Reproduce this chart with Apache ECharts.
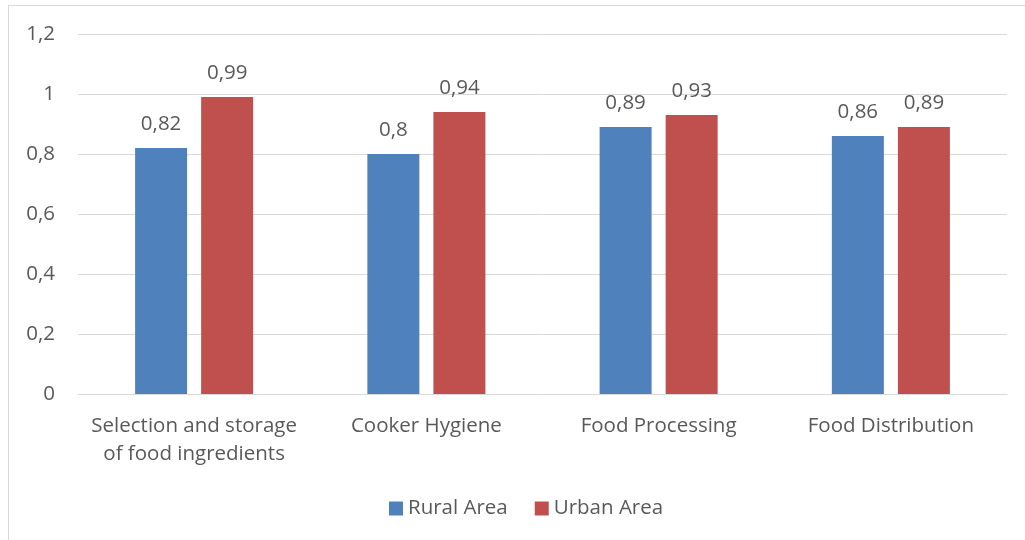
<!DOCTYPE html>
<html>
<head>
<meta charset="utf-8">
<script src="https://cdn.jsdelivr.net/npm/echarts@6/dist/echarts.min.js"></script>
<style>
  html, body { margin: 0; padding: 0; background: #fff; }
  #frame { position: absolute; left: 8px; top: 5px; width: 1017px; height: 535px;
           border-left: 1px solid #d9d9d9; border-top: 1px solid #d9d9d9; box-sizing: border-box; }
  #chart { width: 1025px; height: 540px; position: absolute; left: 0; top: 0; }
</style>
</head>
<body>
<div id="frame"></div>
<div id="chart"></div>
<script>
const categories = [
  'Selection and storage\nof food ingredients',
  'Cooker Hygiene',
  'Food Processing',
  'Food Distribution'
];
const ruralArea = [0.82, 0.80, 0.89, 0.86];
const urbanArea = [0.99, 0.94, 0.93, 0.89];
const seriesNames = ['Rural Area', 'Urban Area'];

const FONT = '"Open Sans", "Noto Sans", sans-serif';
const SIZE = 20.5;
const TEXT = '#595959';
const fmt = v => String(+v.toFixed(2)).replace('.', ',');

const chart = echarts.init(document.getElementById('chart'), null, { renderer: 'canvas' });
chart.setOption({
  animation: false,
  textStyle: { fontFamily: FONT },
  grid: { left: 78, right: 18, top: 34, bottom: 146, containLabel: false },
  legend: {
    data: seriesNames,
    top: 493,
    left: 384,
    itemWidth: 14,
    itemHeight: 14,
    itemGap: 27,
    icon: 'rect',
    textStyle: { fontFamily: FONT, fontSize: SIZE, color: TEXT, padding: [0, 0, 0, 0] }
  },
  xAxis: {
    type: 'category',
    data: categories,
    axisLine: { show: true, lineStyle: { color: '#d9d9d9', width: 1 } },
    axisTick: { show: false },
    axisLabel: { fontFamily: FONT, fontSize: SIZE, color: TEXT, margin: 18, lineHeight: 28, interval: 0 }
  },
  yAxis: {
    type: 'value',
    min: 0,
    max: 1.2,
    interval: 0.2,
    axisLine: { show: false },
    axisTick: { show: false },
    splitLine: { lineStyle: { color: '#d9d9d9', width: 1 } },
    axisLabel: { fontFamily: FONT, fontSize: SIZE, color: TEXT, margin: 23, formatter: fmt }
  },
  series: [
    {
      name: seriesNames[0],
      type: 'bar',
      data: ruralArea,
      barWidth: 52,
      barGap: '27%',
      itemStyle: { color: '#4f81bd' },
      label: { show: true, position: 'top', distance: 13, fontFamily: FONT, fontSize: SIZE, color: TEXT,
               formatter: p => fmt(p.value) }
    },
    {
      name: seriesNames[1],
      type: 'bar',
      data: urbanArea,
      barWidth: 52,
      itemStyle: { color: '#c0504d' },
      label: { show: true, position: 'top', distance: 13, fontFamily: FONT, fontSize: SIZE, color: TEXT,
               formatter: p => fmt(p.value) }
    }
  ]
});
</script>
</body>
</html>
